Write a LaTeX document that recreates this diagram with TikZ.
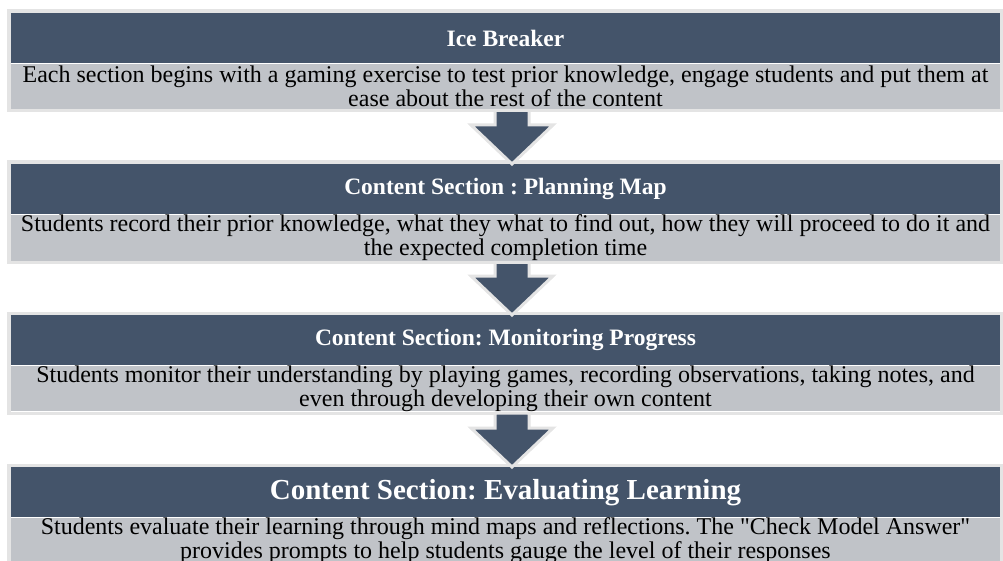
\documentclass[tikz,border=0pt]{standalone}
\usepackage{fontspec}
\setmainfont{Liberation Serif}
\usetikzlibrary{calc,fit,backgrounds}
\definecolor{slate}{HTML}{44546A}
\definecolor{mist}{HTML}{C0C3C8}
\definecolor{rim}{HTML}{E4E4E4}
\frenchspacing
\begin{document}
\begin{tikzpicture}[x=1pt,y=-1pt,
  head/.style={rectangle, fill=slate, text=white,
    font=\fontsize{23.5}{24}\selectfont\bfseries,
    minimum width=989pt, minimum height=50pt, inner sep=0pt, anchor=north},
  bodybox/.style={rectangle, fill=mist, text=black,
    font=\fontsize{24}{24}\selectfont, align=center,
    minimum width=989pt, minimum height=45pt, inner sep=0pt, anchor=north},
  rimbox/.style={draw=rim, line width=3.5pt, inner sep=1.75pt},
  blockarrow/.style={fill=slate, draw=rim, line width=3pt, line join=miter}]
\useasboundingbox (0,0) rectangle (1003,561);

% the four stages: a dark title band over a grey description band
\node[head] (h1) at (505.5,13) {Ice Breaker};
\node[bodybox] (g1) at (h1.south) {Each section begins with a gaming exercise to test prior knowledge, engage students and put them at\\ease about the rest of the content};

\node[head] (h2) at (505.5,164) {Content Section : Planning Map};
\node[bodybox] (g2) at (h2.south) {Students record their prior knowledge, what they what to find out, how they will proceed to do it and\\the expected completion time};

\node[head] (h3) at (505.5,315) {Content Section: Monitoring Progress};
\node[bodybox] (g3) at (h3.south) {Students monitor their understanding by playing games, recording observations, taking notes, and\\even through developing their own content};

\node[head, font=\fontsize{29}{30}\selectfont\bfseries] (h4) at (505.5,467) {Content Section: Evaluating Learning};
\node[bodybox] (g4) at (h4.south) {Students evaluate their learning through mind maps and reflections. The \textquotedbl Check Model Answer\textquotedbl\\provides prompts to help students gauge the level of their responses};

% light rim around each stage
\begin{scope}[on background layer]
  \foreach \i in {1,...,4}
    \node[rimbox, fit=(h\i)(g\i)] (r\i) {};
\end{scope}

% block arrows leading from one stage to the next
\foreach \a/\b in {1/2,2/3,3/4} {
  \coordinate (tip\b) at ($(h\b.north)+(6.5,0)$);
  \draw[blockarrow] (tip\b) -- ++(-41,-39) -- ++(24,0)
    -- ($(tip\b|-g\a.south)+(-17,1.5)$) -- ++(34,0)
    -- ($(tip\b)+(17,-39)$) -- ++(24,0) -- cycle;
}
\end{tikzpicture}
\end{document}
